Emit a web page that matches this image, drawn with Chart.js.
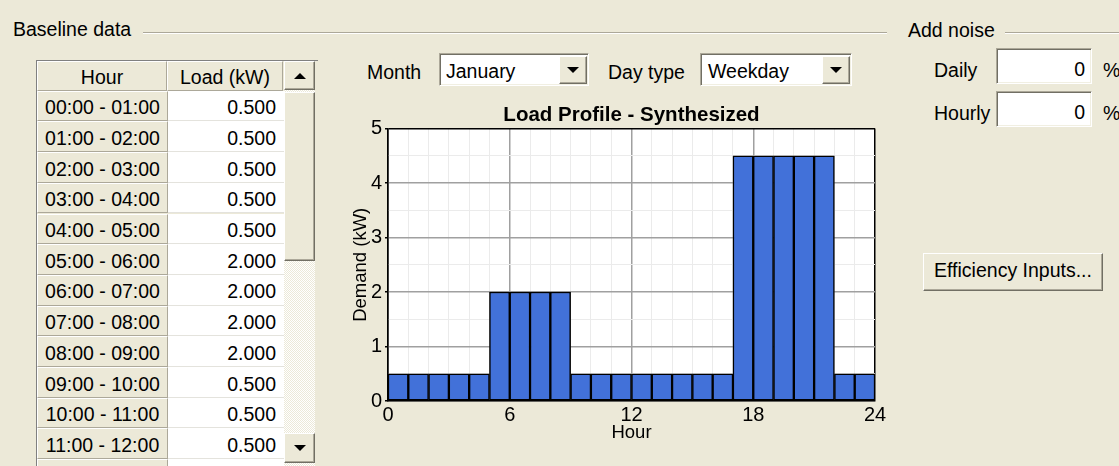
<!doctype html>
<html>

<head>
    <title>Baseline data</title>
    <script src="https://cdn.jsdelivr.net/npm/chart.js"></script>
    <style>
        * { box-sizing: border-box; }
        body {
            margin: 0;
            width: 1119px;
            height: 466px;
            overflow: hidden;
            position: relative;
            background: #ece9d8;
            font-family: "Liberation Sans", Arial, sans-serif;
            font-size: 19.5px;
            color: #000;
        }
        .lbl { position: absolute; line-height: 22px; white-space: nowrap; }
        .etch { position: absolute; height: 2px; border-top: 1px solid #aca899; border-bottom: 1px solid #fff; }
        .raised {
            position: absolute;
            background: #ece9d8;
            border-top: 1px solid #fff;
            border-left: 1px solid #fff;
            border-right: 1px solid #716f64;
            border-bottom: 1px solid #716f64;
            box-shadow: inset -1px -1px #aca899;
        }
        .sunken {
            position: absolute;
            background: #fff;
            border-top: 1px solid #aca899;
            border-left: 1px solid #aca899;
            border-right: 1px solid #fff;
            border-bottom: 1px solid #fff;
            box-shadow: inset 1px 1px #716f64, inset -1px -1px #f1efe2;
        }
        .tri-down, .tri-up {
            position: absolute;
            left: 50%;
            top: 50%;
            width: 0;
            height: 0;
            border-left: 6px solid transparent;
            border-right: 6px solid transparent;
            margin-left: -6px;
        }
        .tri-down { border-top: 6px solid #000; margin-top: -3px; }
        .tri-up { border-bottom: 6px solid #000; margin-top: -3px; }
        .cell { position: absolute; line-height: 22px; white-space: nowrap; }
        .hcell {
            background: #ece9d8;
            border-top: 1px solid #fff;
            border-left: 1px solid #fff;
            border-right: 1px solid #aca899;
            border-bottom: 1px solid #aca899;
            text-align: center;
        }
        .vcell {
            background: #fff;
            border-bottom: 1px solid #e4e3dd;
            text-align: right;
            padding-right: 8px;
        }
        #chartBox { position: absolute; left: 340px; top: 96px; }
    </style>
</head>

<body>
    <!-- group headers -->
    <div class="lbl" style="left:13px; top:18px;">Baseline data</div>
    <div class="etch" style="left:143px; top:32px; width:744px;"></div>
    <div class="lbl" style="left:908px; top:19px;">Add noise</div>
    <div class="etch" style="left:1005px; top:32px; width:114px;"></div>

    <!-- table -->
    <div id="tbl" style="position:absolute; left:36px; top:60px; width:282px; height:406px; border-left:1px solid #808080; border-top:1px solid #808080; overflow:hidden;"></div>

    <!-- month / day type -->
    <div class="lbl" style="left:367px; top:60.6px;">Month</div>
    <div class="sunken" style="left:439px; top:53px; width:150px; height:33px;">
        <div class="lbl" style="left:6px; top:6px;">January</div>
        <div class="raised" style="left:119px; top:2px; width:28px; height:28px;"><div class="tri-down"></div></div>
    </div>
    <div class="lbl" style="left:608px; top:60.6px;">Day type</div>
    <div class="sunken" style="left:700px; top:53px; width:152px; height:33px;">
        <div class="lbl" style="left:7px; top:6px;">Weekday</div>
        <div class="raised" style="left:121px; top:2px; width:28px; height:28px;"><div class="tri-down"></div></div>
    </div>

    <!-- noise -->
    <div class="lbl" style="left:934px; top:59px;">Daily</div>
    <div class="sunken" style="left:996px; top:48px; width:96px; height:36px;">
        <div class="lbl" style="right:6px; top:9px;">0</div>
    </div>
    <div class="lbl" style="left:1103px; top:59px;">%</div>
    <div class="lbl" style="left:934px; top:102px;">Hourly</div>
    <div class="sunken" style="left:996px; top:91px; width:96px; height:36px;">
        <div class="lbl" style="right:6px; top:9px;">0</div>
    </div>
    <div class="lbl" style="left:1103px; top:102px;">%</div>

    <!-- button -->
    <div class="raised" style="left:923px; top:253px; width:180px; height:38px;">
        <div class="lbl" style="left:0; width:178px; text-align:center; top:5px;">Efficiency Inputs...</div>
    </div>

    <div id="chartBox"><canvas id="loadChart" width="548" height="350"></canvas></div>

    <script>
        var hourLabels = ['00:00 - 01:00', '01:00 - 02:00', '02:00 - 03:00', '03:00 - 04:00',
            '04:00 - 05:00', '05:00 - 06:00', '06:00 - 07:00', '07:00 - 08:00',
            '08:00 - 09:00', '09:00 - 10:00', '10:00 - 11:00', '11:00 - 12:00',
            '12:00 - 13:00', '13:00 - 14:00', '14:00 - 15:00', '15:00 - 16:00',
            '16:00 - 17:00', '17:00 - 18:00', '18:00 - 19:00', '19:00 - 20:00',
            '20:00 - 21:00', '21:00 - 22:00', '22:00 - 23:00', '23:00 - 24:00'];
        var loadKw = [0.5, 0.5, 0.5, 0.5, 0.5, 2, 2, 2, 2, 0.5, 0.5, 0.5,
            0.5, 0.5, 0.5, 0.5, 0.5, 4.5, 4.5, 4.5, 4.5, 4.5, 0.5, 0.5];
        var hourTicks = [0, 6, 12, 18, 24];
        var demandTicks = [0, 1, 2, 3, 4, 5];

        // table on the left
        var tbl = document.getElementById('tbl');
        var html = '';
        html += '<div class="cell hcell" style="left:0;top:0;width:130px;height:30px;padding-top:4px;">Hour</div>';
        html += '<div class="cell hcell" style="left:130px;top:0;width:116px;height:30px;padding-top:4px;">Load (kW)</div>';
        var rowH = 30.7;
        for (var i = 0; i < 13; i++) {
            var t = 29.7 + rowH * i;
            html += '<div class="cell hcell" style="left:0;top:' + t + 'px;width:131px;height:' + rowH + 'px;padding-top:4.6px;">' + hourLabels[i] + '</div>';
            html += '<div class="cell vcell" style="left:131px;top:' + t + 'px;width:116px;height:' + rowH + 'px;padding-top:5.6px;">' + loadKw[i].toFixed(3) + '</div>';
        }
        // scrollbar
        html += '<div style="position:absolute;left:247px;top:29px;width:31px;height:380px;background:repeating-conic-gradient(#fff 0 25%, #ece9d8 0 50%) 0 0/2px 2px;"></div>';
        html += '<div class="raised" style="left:247px;top:0;width:31px;height:29px;"><div class="tri-up"></div></div>';
        html += '<div class="raised" style="left:247px;top:31px;width:31px;height:169px;"></div>';
        html += '<div class="raised" style="left:247px;top:372px;width:31px;height:30px;"><div class="tri-down"></div></div>';
        tbl.innerHTML = html;

        var isMajorY = function (v) { return demandTicks.indexOf(Math.round(v * 1000) / 1000) >= 0; };
        var isMajorX = function (v) { return hourTicks.indexOf(v) >= 0; };

        var plotBg = {
            id: 'plotBg',
            beforeDraw: function (chart) {
                var a = chart.chartArea;
                chart.ctx.save();
                chart.ctx.fillStyle = '#fff';
                chart.ctx.fillRect(a.left, a.top, a.right - a.left, a.bottom - a.top);
                chart.ctx.restore();
            }
        };

        var fam = '"Liberation Sans", Arial, sans-serif';

        var loadChart = new Chart(document.getElementById('loadChart').getContext('2d'), {
            type: 'bar',
            data: {
                datasets: [{
                    label: 'Demand',
                    data: loadKw.map(function (v, h) { return { x: h + 0.5, y: v }; }),
                    backgroundColor: '#4271d9',
                    borderColor: '#000',
                    borderWidth: 1.5,
                    borderSkipped: false,
                    barPercentage: 1,
                    categoryPercentage: 1
                }]
            },
            options: {
                responsive: false,
                animation: false,
                layout: { padding: { left: 0, right: 13, top: 0, bottom: 0 } },
                plugins: {
                    legend: { display: false },
                    tooltip: { enabled: false },
                    title: {
                        display: true,
                        fullSize: false,
                        text: 'Load Profile - Synthesized',
                        color: '#000',
                        font: { family: fam, size: 20.5, weight: 'bold', lineHeight: 1.2 },
                        padding: { top: 7, bottom: 1 }
                    }
                },
                scales: {
                    x: {
                        type: 'linear',
                        min: 0,
                        max: 24,
                        offset: false,
                        grid: {
                            offset: false,
                            color: function (c) {
                                var v = c.tick.value;
                                if (v === 0 || v === 24) return '#000';
                                return isMajorX(v) ? '#a0a0a0' : '#ebebeb';
                            },
                            lineWidth: function (c) { return isMajorX(c.tick.value) ? 1.5 : 1; },
                            tickLength: 4,
                            tickColor: 'rgba(0,0,0,0)'
                        },
                        border: { color: '#000', width: 1.5 },
                        ticks: {
                            stepSize: 1,
                            autoSkip: false,
                            maxRotation: 0,
                            padding: 0,
                            color: '#000',
                            font: { family: fam, size: 20, lineHeight: 1 },
                            callback: function (v) { return isMajorX(v) ? String(v) : ''; }
                        },
                        title: {
                            display: true,
                            text: 'Hour',
                            color: '#000',
                            font: { family: fam, size: 18.5, lineHeight: 1.2 },
                            padding: { top: 0, bottom: 1.5 }
                        },
                        afterFit: function (s) { s.height = 45; }
                    },
                    y: {
                        min: 0,
                        max: 5,
                        grid: {
                            color: function (c) {
                                var v = c.tick.value;
                                if (v === 5) return '#000';
                                return isMajorY(v) ? '#a0a0a0' : '#ebebeb';
                            },
                            lineWidth: function (c) { return isMajorY(c.tick.value) ? 1.5 : 1; },
                            tickLength: 3,
                            tickColor: function (c) { return isMajorY(c.tick.value) ? '#000' : 'rgba(0,0,0,0)'; }
                        },
                        border: { color: '#000', width: 1.5 },
                        ticks: {
                            stepSize: 0.5,
                            autoSkip: false,
                            padding: 3,
                            color: '#000',
                            font: { family: fam, size: 20, lineHeight: 1 },
                            callback: function (v) { return isMajorY(v) ? String(v) : ''; }
                        },
                        title: {
                            display: true,
                            text: 'Demand (kW)',
                            color: '#000',
                            font: { family: fam, size: 18.5, lineHeight: 1.2 },
                            padding: { top: 9.4, bottom: 0 }
                        },
                        afterFit: function (s) { s.width = 48; }
                    }
                }
            },
            plugins: [plotBg]
        });
    </script>
</body>

</html>
